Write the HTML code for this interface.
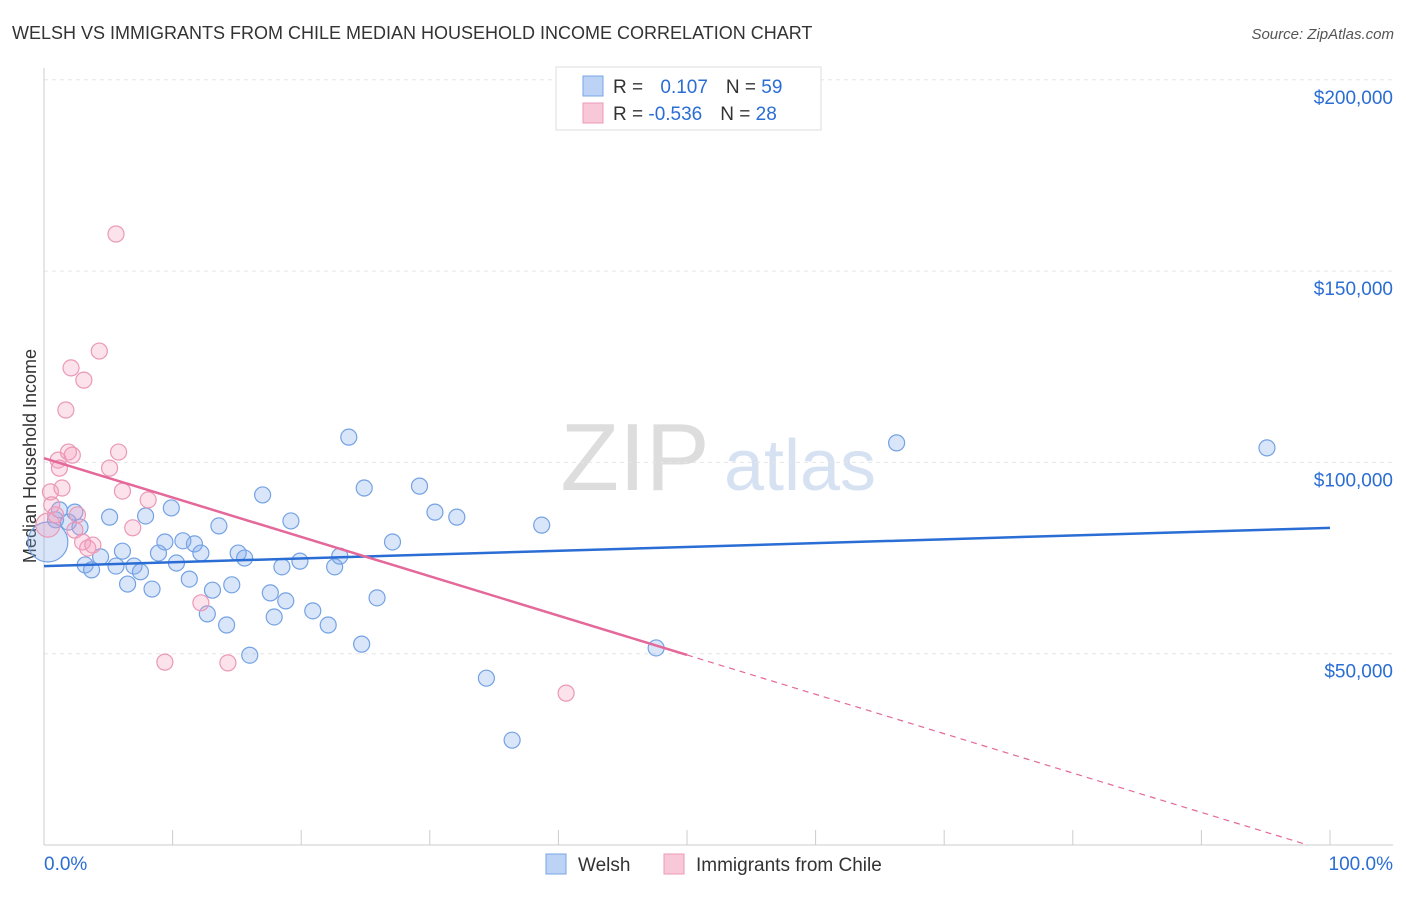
<!DOCTYPE html>
<html><head><meta charset="utf-8"><style>
body{margin:0;background:#fff;font-family:"Liberation Sans",sans-serif}
svg text{font-family:"Liberation Sans",sans-serif}
</style></head><body>
<svg id="c" width="1406" height="892">
<text x="12" y="39" font-size="18" fill="#333">WELSH VS IMMIGRANTS FROM CHILE MEDIAN HOUSEHOLD INCOME CORRELATION CHART</text>
<text x="1394" y="39" font-size="15" fill="#555" text-anchor="end" font-style="italic">Source: ZipAtlas.com</text>
<text x="36" y="456" font-size="18" fill="#333" text-anchor="middle" transform="rotate(-90 36 456)">Median Household Income</text>
<g><text x="635" y="490" font-size="96" fill="#ddd" font-family="Liberation Serif" text-anchor="middle">ZIP</text><text x="800" y="490" font-size="72" fill="#d6e2f2" text-anchor="middle">atlas</text></g>
<g id="grid"></g><g id="axes"></g><g id="marks"></g>
<g>
<rect x="556" y="67" width="265" height="63" fill="#fff" stroke="#ddd"/>
<rect x="583" y="76" width="20" height="20" fill="#bcd3f5" stroke="#7aa6e6"/>
<rect x="583" y="103" width="20" height="20" fill="#f9c8d8" stroke="#ec9ab8"/>
<text x="613" y="93" font-size="19" fill="#333">R = <tspan fill="#2a6dd4" dx="12">0.107</tspan><tspan dx="18" fill="#333">N = </tspan><tspan fill="#2a6dd4">59</tspan></text>
<text x="613" y="120" font-size="19" fill="#333">R = <tspan fill="#2a6dd4">-0.536</tspan><tspan dx="18" fill="#333">N = </tspan><tspan fill="#2a6dd4">28</tspan></text>
</g>
<g>
<rect x="546" y="854" width="20" height="20" fill="#bcd3f5" stroke="#7aa6e6"/>
<text x="578" y="871" font-size="19" fill="#333">Welsh</text>
<rect x="664" y="854" width="20" height="20" fill="#f9c8d8" stroke="#ec9ab8"/>
<text x="696" y="871" font-size="19" fill="#333">Immigrants from Chile</text>
</g>
</svg>
<script>
const yTicks=[50000,100000,150000,200000];
const yTickLabels=["$50,000","$100,000","$150,000","$200,000"];
const xTickLabels=["0.0%","100.0%"];
const welshX=[0.3,0.9,1.2,1.9,2.4,2.8,3.2,3.7,4.4,5.1,5.6,6.1,6.5,7.0,7.5,7.9,8.4,8.9,9.4,9.9,10.3,10.8,11.3,11.7,12.2,12.7,13.1,13.6,14.2,14.6,15.1,15.6,16.0,17.0,17.6,17.9,18.5,18.8,19.2,19.9,20.9,22.1,22.6,23.0,23.7,24.7,24.9,25.9,27.1,29.2,30.4,32.1,34.4,36.4,38.7,47.6,66.3,95.1];
const welshY=[79.2,85.0,87.6,84.4,87.0,83.1,73.2,71.9,75.3,85.7,72.9,76.8,68.2,72.9,71.4,86.0,66.9,76.3,79.2,88.1,73.7,79.5,69.5,78.7,76.3,60.4,66.6,83.4,57.5,68.0,76.3,75.0,49.6,91.5,65.9,59.6,72.7,63.8,84.7,74.2,61.2,57.5,72.7,75.5,106.6,52.5,93.3,64.6,79.2,93.8,87.0,85.7,43.6,27.4,83.6,51.5,105.1,103.8];
const chileX=[0.3,0.5,0.6,0.9,1.1,1.2,1.4,1.7,1.9,2.1,2.2,2.4,2.6,3.0,3.1,3.4,3.8,4.3,5.1,5.6,5.8,6.1,6.9,8.1,9.4,12.2,14.3,40.6];
const chileY=[83.6,92.3,88.9,86.3,100.6,98.5,93.3,113.7,102.7,124.7,101.9,82.3,86.3,79.2,121.5,77.6,78.4,129.1,98.5,159.7,102.7,92.5,82.9,90.2,47.8,63.3,47.6,39.7];
const welshTrend=[72.9,82.9];
const chileTrend=[101.1,-0.0177*100];
const NS="http://www.w3.org/2000/svg";
const sx=p=>44+p*12.86, sy=v=>845-v/50000*191.3, syk=k=>sy(k*1000);
function mk(t,a,p){const e=document.createElementNS(NS,t);for(const k in a)e.setAttribute(k,a[k]);p.appendChild(e);return e;}
const grid=document.getElementById('grid'),axes=document.getElementById('axes'),marks=document.getElementById('marks');
yTicks.forEach((v,i)=>{
 const l=mk('line',{x1:44,x2:1393,y1:sy(v),y2:sy(v),stroke:'#e6e6e6','stroke-dasharray':'4 4'},grid);
 
 
 const t=mk('text',{x:1393,y:sy(v)+24,'font-size':19,fill:'#2a6dd4','text-anchor':'end'},axes);
 t.textContent=yTickLabels[i];
 
 
});
const ax=mk('line',{x1:44,x2:44,y1:68,y2:845,stroke:'#ccc'},axes);


const bx=mk('line',{x1:44,x2:1393,y1:845,y2:845,stroke:'#ccc'},axes);


for(let i=0;i<=10;i++){const t=mk('line',{x1:sx(i*10),x2:sx(i*10),y1:830,y2:845,stroke:'#ccc'},axes);
 
 }
const x0=mk('text',{x:44,y:870,'font-size':19,fill:'#2a6dd4'},axes);x0.textContent=xTickLabels[0];


const x1=mk('text',{x:1393,y:870,'font-size':19,fill:'#2a6dd4','text-anchor':'end'},axes);x1.textContent=xTickLabels[1];


welshX.forEach((x,i)=>{const c=mk('circle',{cx:sx(x),cy:syk(welshY[i]),r:i==0?20:8,fill:'rgba(130,170,235,0.3)',stroke:'#74a2e4','stroke-width':1.2},marks);
 
 });
chileX.forEach((x,i)=>{const c=mk('circle',{cx:sx(x),cy:syk(chileY[i]),r:i==0?12:8,fill:'rgba(245,160,190,0.3)',stroke:'#eb98b6','stroke-width':1.2},marks);
 
 });
const wt=mk('line',{x1:sx(0),y1:syk(welshTrend[0]),x2:sx(100),y2:syk(welshTrend[1]),stroke:'#2a6dd4','stroke-width':2.5},marks);


const slope=(chileTrend[1]-chileTrend[0])/100; const xz=-chileTrend[0]/slope;
const ct=mk('line',{x1:sx(0),y1:syk(chileTrend[0]),x2:sx(50),y2:syk(chileTrend[0]+slope*50),stroke:'#e4689a','stroke-width':2.5},marks);


const cd=mk('line',{x1:sx(50),y1:syk(chileTrend[0]+slope*50),x2:sx(xz),y2:syk(0),stroke:'#e4689a','stroke-width':1.2,'stroke-dasharray':'6 5'},marks);


</script>
</body></html>
